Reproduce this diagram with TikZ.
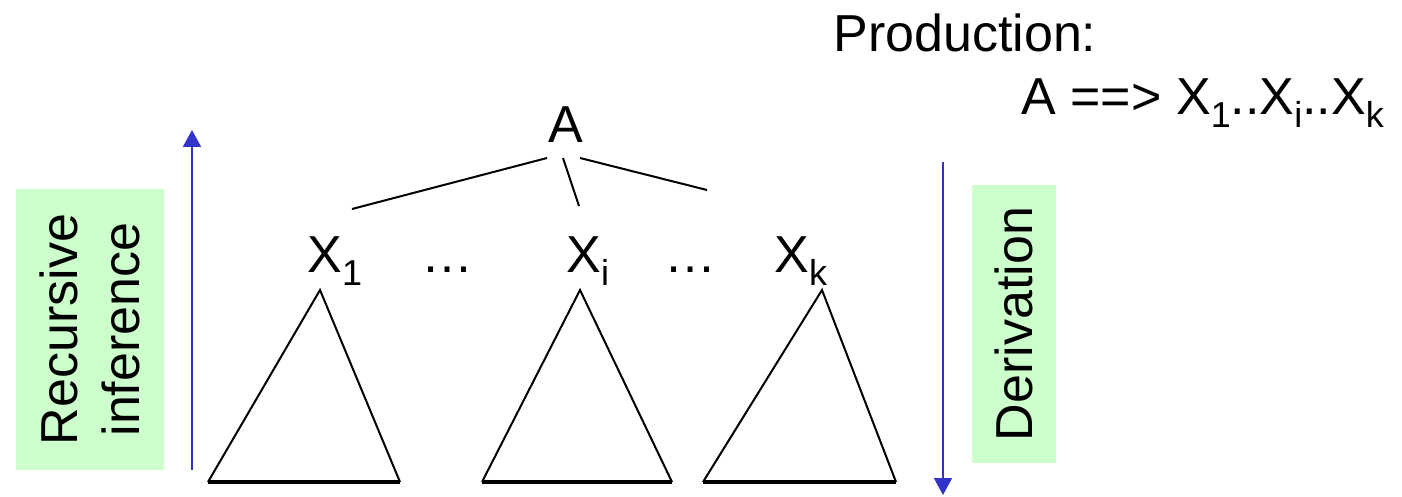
\documentclass[tikz,border=0pt]{standalone}
\usepackage{fontspec}
\setmainfont{Liberation Sans}
\usetikzlibrary{arrows.meta}
\definecolor{flowblue}{HTML}{3333CC}
\definecolor{notegreen}{HTML}{CCFFCC}
\newcommand{\lowidx}[1]{\raisebox{-0.25em}{\fontsize{18}{20}\selectfont #1}}

\begin{document}
\begin{tikzpicture}[x=0.5pt, y=-0.5pt,
    lbl/.style={inner sep=0pt, font=\fontsize{26}{31}\selectfont},
    note/.style={fill=notegreen, rotate=90, inner sep=0pt, align=center,
      font=\fontsize{26}{31}\selectfont},
    subtree/.style={line width=1pt, line join=miter},
    flow/.style={flowblue, line width=1pt, -{Triangle[width=9pt,length=8.5pt]}}]
    \useasboundingbox (0,0) rectangle (1402,497);

    % Production rule, top right.
    \node[lbl, anchor=base west] (prod) at (833,52) {Production:};
    \node[lbl, anchor=base west] (rule) at (1021,115)
      {A ==> X\lowidx{1}..X\lowidx{i}..X\lowidx{k}};

    % Root and its children.
    \node[lbl, anchor=base] (A) at (566,143) {A};
    \node[lbl, anchor=base west] (x1) at (307,272) {X\lowidx{1}};
    \node[lbl, anchor=base] (dotsl) at (447,272) {\ldots};
    \node[lbl, anchor=base west] (xi) at (566,272) {X\lowidx{i}};
    \node[lbl, anchor=base] (dotsr) at (690,272) {\ldots};
    \node[lbl, anchor=base west] (xk) at (774,272) {X\lowidx{k}};

    % Edges out of A (the third one stops short of X_k).
    \coordinate (A1) at (547,158);
    \coordinate (Ai) at (563,158);
    \coordinate (Ak) at (580,158);
    \coordinate (x1top) at (352,209);
    \coordinate (xitop) at (579,206);
    \coordinate (xktop) at (707,190);
    \draw[line width=1pt] (A1) -- (x1top);
    \draw[line width=1pt] (Ai) -- (xitop);
    \draw[line width=1pt] (Ak) -- (xktop);

    % Subtrees below X_1, X_i, X_k: apex, left and right base corner.
    \foreach \t/\ax/\bl/\br in {1/320/208/400, 2/580/482/672, 3/822/703/896} {
      \coordinate (top\t) at (\ax,290);
      \coordinate (bl\t) at (\bl,482);
      \coordinate (br\t) at (\br,482);
      \draw[subtree] (bl\t) -- (top\t) -- (br\t);
      \draw[line width=1.6pt] (bl\t) -- (br\t);
    }

    % Direction arrows.
    \coordinate (upfrom) at (192,470);
    \coordinate (upto) at (192,130);
    \coordinate (downfrom) at (943,162);
    \coordinate (downto) at (943,495);
    \draw[flow] (upfrom) -- (upto);
    \draw[flow] (downfrom) -- (downto);

    % Side notes.
    \node[note, minimum width=140.5pt, minimum height=74pt] (recnote)
      at (90,329.5) {Recursive\\inference};
    \node[note, minimum width=139pt, minimum height=42pt] (dernote)
      at (1014,324) {Derivation};
  \end{tikzpicture}
\end{document}
